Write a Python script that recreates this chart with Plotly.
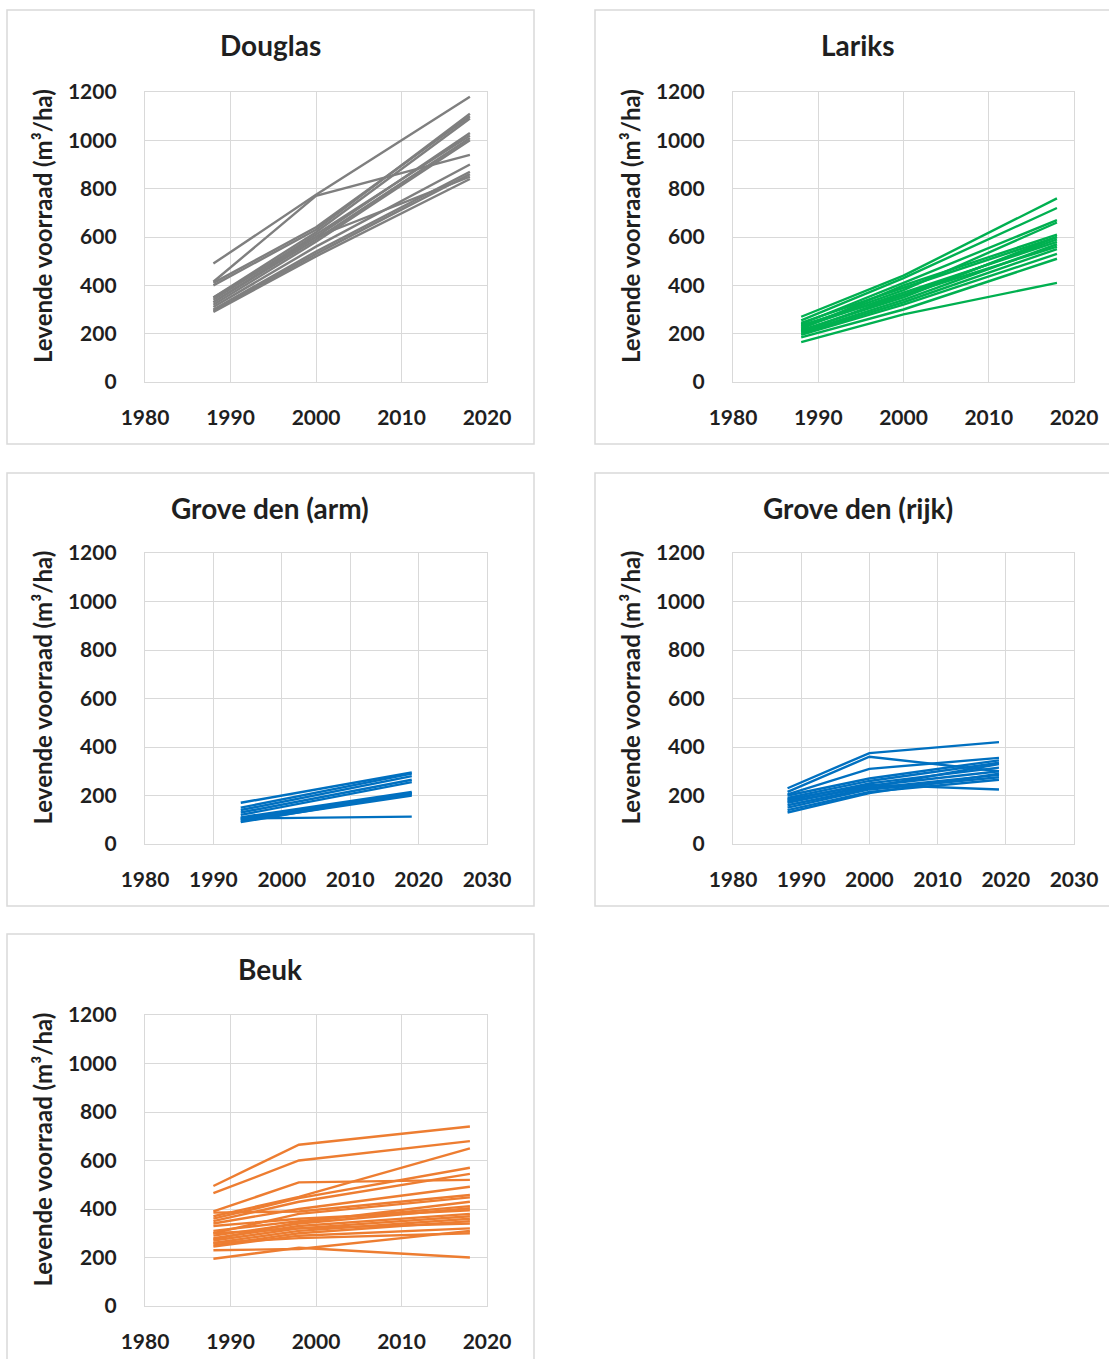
import plotly.graph_objects as go

W, H = 1109, 1359

# Measurement years per panel
douglas_years = [1988, 2000, 2018]
lariks_years = [1988, 2000, 2018]
grove_arm_years = [1994, 2019]
grove_rijk_years = [1988, 2000, 2019]
beuk_years = [1988, 1998, 2018]

# Living stock (m3/ha) per plot
douglas_values = [
    [490, 775, 1180],
    [415, 770, 940],
    [410, 640, 1100],
    [400, 630, 1110],
    [350, 620, 1090],
    [350, 600, 1030],
    [340, 610, 1020],
    [330, 590, 1010],
    [320, 580, 1000],
    [310, 560, 900],
    [300, 540, 870],
    [295, 530, 860],
    [330, 600, 850],
    [290, 520, 840],
]
lariks_values = [
    [270, 440, 760],
    [255, 430, 720],
    [240, 410, 670],
    [230, 380, 660],
    [220, 400, 610],
    [245, 390, 600],
    [215, 350, 600],
    [210, 360, 590],
    [225, 370, 580],
    [205, 340, 570],
    [235, 360, 560],
    [200, 330, 550],
    [195, 320, 530],
    [185, 300, 510],
    [165, 280, 410],
]
grove_arm_values = [
    [170, 295],
    [150, 290],
    [140, 280],
    [130, 265],
    [120, 255],
    [110, 215],
    [105, 210],
    [100, 205],
    [95, 200],
    [90, 210],
    [105, 113],
]
grove_rijk_values = [
    [230, 375, 420],
    [215, 360, 300],
    [205, 310, 355],
    [200, 270, 345],
    [190, 260, 335],
    [180, 250, 315],
    [170, 240, 300],
    [160, 230, 285],
    [150, 225, 275],
    [140, 215, 265],
    [130, 210, 290],
    [185, 245, 225],
    [175, 235, 330],
]
beuk_values = [
    [495, 665, 740],
    [465, 600, 680],
    [390, 510, 520],
    [370, 450, 650],
    [360, 445, 570],
    [350, 430, 545],
    [340, 400, 492],
    [385, 390, 458],
    [300, 380, 448],
    [310, 350, 412],
    [290, 340, 403],
    [330, 360, 395],
    [275, 345, 430],
    [280, 330, 380],
    [270, 320, 370],
    [260, 310, 360],
    [250, 300, 350],
    [300, 320, 340],
    [245, 290, 320],
    [260, 280, 300],
    [230, 235, 310],
    [195, 240, 200],
]

titles = ["Douglas", "Lariks", "Grove den (arm)", "Grove den (rijk)", "Beuk"]
colors = ["#7f7f7f", "#00b050", "#0070c0", "#0070c0", "#ed7d31"]
x_ranges = [[1980, 2020], [1980, 2020], [1980, 2030], [1980, 2030], [1980, 2020]]
y_ticks = [0, 200, 400, 600, 800, 1000, 1200]
y_title = "Levende voorraad (m³/ha)"

years = [douglas_years, lariks_years, grove_arm_years, grove_rijk_years, beuk_years]
values = [douglas_values, lariks_values, grove_arm_values, grove_rijk_values, beuk_values]

# Pixel layout of each panel: plot-area left/right, top/bottom, and outer frame
plot_px = [
    (145, 487, 92, 382),
    (733, 1074, 92, 382),
    (145, 487, 553, 844),
    (733, 1074, 553, 844),
    (145, 487, 1015, 1306),
]
frame_px = [
    (7, 534, 10, 444),
    (595, 1120, 10, 444),
    (7, 534, 473, 906),
    (595, 1120, 473, 906),
    (7, 534, 934, 1375),
]

FONT = "Lato"
TXT = "#1f1f1f"
GRID = "#d9d9d9"

fig = go.Figure()
layout = dict(
    template="none",
    width=W, height=H,
    margin=dict(l=0, r=0, t=0, b=0, autoexpand=False),
    paper_bgcolor="white", plot_bgcolor="white",
    showlegend=False,
    font=dict(family=FONT, color=TXT),
)
shapes, annotations = [], []

for i in range(5):
    n = "" if i == 0 else str(i + 1)
    xa, ya = "x" + n, "y" + n
    for series in values[i]:
        fig.add_trace(go.Scatter(
            x=years[i], y=series, mode="lines",
            line=dict(color=colors[i], width=2.4),
            xaxis=xa, yaxis=ya, hoverinfo="skip",
        ))
    l, r, t, b = plot_px[i]
    lo, hi = x_ranges[i]
    layout["xaxis" + n] = dict(
        domain=[l / W, r / W], anchor=ya, range=[lo, hi],
        tickvals=list(range(lo, hi + 1, 10)),
        showgrid=True, gridcolor=GRID, gridwidth=1,
        showline=True, linecolor=GRID, linewidth=1.3, mirror=True,
        zeroline=False, ticks="", ticklabelstandoff=17, automargin=False,
        tickfont=dict(family=FONT, size=21, color=TXT, weight="bold"),
    )
    layout["yaxis" + n] = dict(
        domain=[1 - b / H, 1 - t / H], anchor=xa, range=[0, 1200],
        tickvals=y_ticks,
        showgrid=True, gridcolor=GRID, gridwidth=1,
        showline=True, linecolor=GRID, linewidth=1.3, mirror=True,
        zeroline=False, ticks="", ticklabelstandoff=23, automargin=False,
        tickfont=dict(family=FONT, size=21, color=TXT, weight="bold"),
    )
    fl, fr, ft, fb = frame_px[i]
    shapes.append(dict(
        type="rect", xref="paper", yref="paper",
        x0=fl / W, x1=fr / W, y0=1 - fb / H, y1=1 - ft / H,
        line=dict(color="#d9d9d9", width=1.5), fillcolor="rgba(0,0,0,0)",
        layer="below",
    ))
    cx = 270 if i % 2 == 0 else 858
    annotations.append(dict(
        text="<b>" + titles[i] + "</b>", xref="paper", yref="paper",
        x=cx / W, y=1 - (ft + 35) / H, xanchor="center", yanchor="middle",
        showarrow=False, font=dict(family=FONT, size=28, color=TXT),
    ))
    annotations.append(dict(
        text="<b>" + y_title + "</b>", xref="paper", yref="paper",
        x=(fl + 35) / W, y=1 - (t + b - 22) / 2 / H, xanchor="center", yanchor="middle",
        textangle=-90, showarrow=False, font=dict(family=FONT, size=24, color=TXT),
    ))

layout["shapes"] = shapes
layout["annotations"] = annotations
fig.update_layout(**layout)
fig.write_html("out.html")
